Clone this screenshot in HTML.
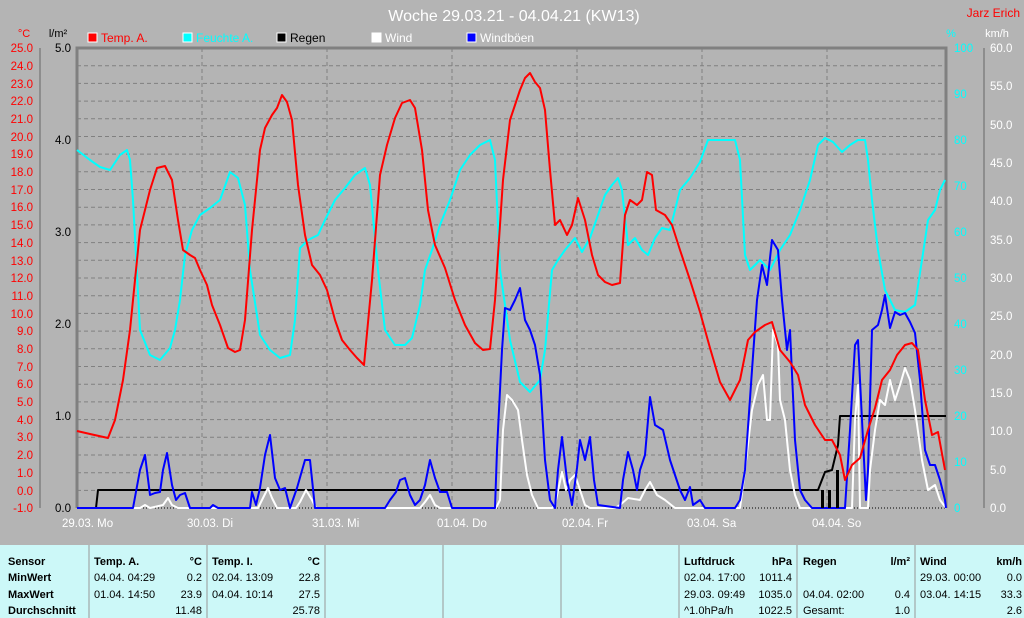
<!DOCTYPE html>
<html><head><meta charset="utf-8"><style>
body{margin:0;background:#b4b4b4;}
svg{display:block;font-family:"Liberation Sans",sans-serif;}
.t{font-size:11.5px;}
</style></head><body>
<svg width="1024" height="618" viewBox="0 0 1024 618" xmlns="http://www.w3.org/2000/svg">
<rect width="1024" height="618" fill="#b4b4b4"/>
<text x="514" y="21" font-size="16" fill="#fff" text-anchor="middle">Woche 29.03.21 - 04.04.21 (KW13)</text>
<text x="1020" y="17" font-size="12" fill="#f00" text-anchor="end">Jarz Erich</text>
<text x="24" y="37" font-size="11" fill="#f00" text-anchor="middle">°C</text>
<text x="58" y="37" font-size="11" fill="#000" text-anchor="middle">l/m²</text>
<text x="951" y="37" font-size="11" fill="#0ff" text-anchor="middle">%</text>
<text x="997" y="37" font-size="11" fill="#fff" text-anchor="middle">km/h</text>
<g font-size="12">
<rect x="88" y="33" width="9" height="9" fill="#f00" stroke="#fff"/><text x="101" y="42" fill="#f00">Temp. A.</text>
<rect x="183" y="33" width="9" height="9" fill="#0ff" stroke="#fff"/><text x="196" y="42" fill="#0ff">Feuchte A.</text>
<rect x="277" y="33" width="9" height="9" fill="#000" stroke="#fff"/><text x="290" y="42" fill="#000">Regen</text>
<rect x="372" y="33" width="9" height="9" fill="#fff" stroke="#fff"/><text x="385" y="42" fill="#fff">Wind</text>
<rect x="467" y="33" width="9" height="9" fill="#00f" stroke="#fff"/><text x="480" y="42" fill="#fff">Windböen</text>
</g>
<g stroke="#808080" stroke-dasharray="4,3" stroke-width="1">
<line x1="77" x2="946" y1="65.7" y2="65.7"/><line x1="77" x2="946" y1="83.4" y2="83.4"/><line x1="77" x2="946" y1="101.1" y2="101.1"/><line x1="77" x2="946" y1="118.8" y2="118.8"/><line x1="77" x2="946" y1="136.5" y2="136.5"/><line x1="77" x2="946" y1="154.1" y2="154.1"/><line x1="77" x2="946" y1="171.8" y2="171.8"/><line x1="77" x2="946" y1="189.5" y2="189.5"/><line x1="77" x2="946" y1="207.2" y2="207.2"/><line x1="77" x2="946" y1="224.9" y2="224.9"/><line x1="77" x2="946" y1="242.6" y2="242.6"/><line x1="77" x2="946" y1="260.3" y2="260.3"/><line x1="77" x2="946" y1="278" y2="278"/><line x1="77" x2="946" y1="295.7" y2="295.7"/><line x1="77" x2="946" y1="313.4" y2="313.4"/><line x1="77" x2="946" y1="331.1" y2="331.1"/><line x1="77" x2="946" y1="348.8" y2="348.8"/><line x1="77" x2="946" y1="366.5" y2="366.5"/><line x1="77" x2="946" y1="384.2" y2="384.2"/><line x1="77" x2="946" y1="401.9" y2="401.9"/><line x1="77" x2="946" y1="419.6" y2="419.6"/><line x1="77" x2="946" y1="437.3" y2="437.3"/><line x1="77" x2="946" y1="455" y2="455"/><line x1="77" x2="946" y1="472.7" y2="472.7"/><line x1="77" x2="946" y1="490.4" y2="490.4"/>
<line x1="202" x2="202" y1="48" y2="508"/><line x1="327" x2="327" y1="48" y2="508"/><line x1="452" x2="452" y1="48" y2="508"/><line x1="577" x2="577" y1="48" y2="508"/><line x1="702" x2="702" y1="48" y2="508"/><line x1="827" x2="827" y1="48" y2="508"/>
</g>
<line x1="77" x2="946" y1="508" y2="508" stroke="#000" stroke-dasharray="1,2"/>
<g stroke="#808080" stroke-width="3" fill="none"><polyline points="77,508 77,48 946,48 946,508"/></g>
<g stroke="#808080" stroke-width="1.5">
<line x1="40" x2="40" y1="48" y2="508"/><line x1="984" x2="984" y1="48" y2="508"/>
</g>
<g class="t" fill="#f00" text-anchor="end">
<text x="33" y="52">25.0</text><text x="33" y="70">24.0</text><text x="33" y="88">23.0</text><text x="33" y="105">22.0</text><text x="33" y="123">21.0</text><text x="33" y="141">20.0</text><text x="33" y="158">19.0</text><text x="33" y="176">18.0</text><text x="33" y="194">17.0</text><text x="33" y="211">16.0</text><text x="33" y="229">15.0</text><text x="33" y="247">14.0</text><text x="33" y="265">13.0</text><text x="33" y="282">12.0</text><text x="33" y="300">11.0</text><text x="33" y="318">10.0</text><text x="33" y="335">9.0</text><text x="33" y="353">8.0</text><text x="33" y="371">7.0</text><text x="33" y="388">6.0</text><text x="33" y="406">5.0</text><text x="33" y="424">4.0</text><text x="33" y="441">3.0</text><text x="33" y="459">2.0</text><text x="33" y="477">1.0</text><text x="33" y="495">0.0</text><text x="33" y="512">-1.0</text>
</g>
<g class="t" fill="#000" text-anchor="end">
<text x="71" y="52">5.0</text><text x="71" y="144">4.0</text><text x="71" y="236">3.0</text><text x="71" y="328">2.0</text><text x="71" y="420">1.0</text><text x="71" y="512">0.0</text>
</g>
<g class="t" fill="#0ff">
<text x="954" y="52">100</text><text x="954" y="98">90</text><text x="954" y="144">80</text><text x="954" y="190">70</text><text x="954" y="236">60</text><text x="954" y="282">50</text><text x="954" y="328">40</text><text x="954" y="374">30</text><text x="954" y="420">20</text><text x="954" y="466">10</text><text x="954" y="512">0</text>
</g>
<g class="t" fill="#fff">
<text x="990" y="52">60.0</text><text x="990" y="90">55.0</text><text x="990" y="129">50.0</text><text x="990" y="167">45.0</text><text x="990" y="205">40.0</text><text x="990" y="244">35.0</text><text x="990" y="282">30.0</text><text x="990" y="320">25.0</text><text x="990" y="359">20.0</text><text x="990" y="397">15.0</text><text x="990" y="435">10.0</text><text x="990" y="474">5.0</text><text x="990" y="512">0.0</text>
</g>
<g class="t" fill="#fff">
<text x="62" y="527">29.03.  Mo</text><text x="187" y="527">30.03.  Di</text><text x="312" y="527">31.03.  Mi</text><text x="437" y="527">01.04.  Do</text><text x="562" y="527">02.04.  Fr</text><text x="687" y="527">03.04.  Sa</text><text x="812" y="527">04.04.  So</text>
</g>
<g fill="none" stroke-width="2" stroke-linejoin="round">
<polyline stroke="#0ff" points="77,150 90,160 100,167 110,170 120,155 127,150 130,160 133,200 140,330 150,355 160,360 170,348 175,330 180,300 185,255 192,230 200,215 210,208 220,200 230,172 238,178 245,205 250,270 260,335 270,350 280,358 290,355 295,320 300,248 308,240 318,235 325,220 335,200 345,188 355,175 365,168 370,185 378,270 385,330 395,345 405,345 412,338 420,305 425,270 432,250 440,225 450,200 460,170 470,155 480,145 490,140 495,160 500,270 510,340 520,382 530,392 540,380 545,350 552,270 558,260 565,250 575,238 582,252 590,238 598,215 605,195 612,185 618,178 622,190 628,245 635,238 642,250 648,255 655,238 662,228 670,230 675,210 680,190 690,178 700,162 708,140 720,140 735,140 740,160 745,255 750,270 760,260 770,270 780,250 790,235 800,210 810,180 818,145 825,138 833,142 842,152 850,145 858,140 865,140 868,160 872,200 878,250 885,290 895,310 905,312 915,305 922,260 928,220 935,210 940,190 945,180"/>
<polyline stroke="#000" points="77,508 96,508 98,490 818,490 825,472 832,470 838,445 840,416 946,416"/>
<polyline stroke="#fff" points="77,508 140,508 145,505 150,508 163,505 168,498 172,505 178,508 258,508 262,500 268,488 272,498 277,508 296,508 300,502 306,490 312,500 316,508 420,508 425,502 430,495 435,505 440,508 496,508 500,500 503,430 507,395 512,400 518,410 522,440 527,475 532,495 538,508 552,508 555,505 562,472 566,490 570,480 575,475 580,490 585,505 590,508 615,508 620,505 628,498 640,500 645,490 650,482 657,495 665,500 675,508 740,508 745,470 752,410 758,385 763,375 767,420 770,420 773,330 778,345 780,400 785,420 790,470 795,495 800,508 852,508 855,420 858,385 860,508 868,508 870,470 875,430 880,400 885,405 890,380 895,400 900,385 905,368 910,380 915,410 922,460 928,490 935,485 940,500 946,508"/>
<polyline stroke="#00f" points="77,508 133,508 140,470 145,455 150,495 155,493 160,492 163,470 167,453 172,485 176,500 180,495 185,493 190,508 210,508 213,505 218,508 250,508 252,492 256,505 260,488 265,455 270,435 275,478 280,490 285,488 290,508 297,488 305,460 310,460 315,508 385,508 390,500 396,492 400,480 405,478 410,495 415,505 420,500 425,485 430,460 435,478 440,492 447,492 452,508 495,508 497,450 502,350 505,308 510,310 515,300 520,288 525,320 530,330 535,345 540,375 545,460 550,500 555,508 558,470 562,437 567,480 572,505 577,468 580,440 585,460 590,437 594,480 598,505 620,508 623,480 628,452 633,470 637,490 640,470 645,455 650,397 655,425 663,430 670,460 680,490 685,500 690,487 693,505 700,500 705,508 735,508 740,500 745,470 752,370 757,300 762,265 767,285 772,240 778,250 782,300 787,350 790,330 795,440 800,490 805,500 812,508 845,508 850,430 855,345 858,340 862,420 866,500 868,470 872,330 878,325 882,310 885,295 890,328 895,312 900,315 905,313 910,322 915,333 920,380 925,450 930,465 935,465 940,480 945,500 946,508"/>
<polyline stroke="#f00" points="77,431 90,434 108,438 115,420 123,380 130,330 140,230 150,190 157,168 165,166 172,180 178,220 183,250 190,255 195,258 200,270 207,285 212,305 220,325 228,348 235,352 240,350 245,320 252,230 260,150 265,128 272,115 277,108 282,95 287,102 292,120 298,185 305,235 312,265 320,275 327,290 335,320 342,340 350,350 357,358 364,365 372,280 380,175 387,145 395,118 402,103 410,100 415,108 422,150 428,210 435,245 445,268 455,300 465,325 475,343 483,350 490,349 495,300 503,180 510,120 515,105 520,90 525,78 530,73 535,82 540,88 545,110 550,170 555,225 560,220 567,235 572,225 578,198 585,220 592,255 598,275 605,282 612,285 620,283 625,215 630,200 637,205 642,200 647,172 652,175 656,210 665,215 672,225 680,250 690,280 700,312 710,348 720,382 730,400 740,380 748,340 755,332 765,325 772,322 780,350 790,362 798,375 805,405 815,425 825,440 832,440 840,455 845,480 852,465 860,458 868,430 875,408 882,380 890,370 897,355 905,345 912,343 918,350 925,400 932,435 938,432 945,470"/>
</g>
<g fill="#000"><rect x="821" y="490" width="3" height="18"/><rect x="828" y="490" width="3" height="18"/><rect x="836" y="470" width="3" height="38"/></g>
<rect x="0" y="545" width="1024" height="73" fill="#ccf8f8"/>
<g stroke="#999" stroke-width="1"><line x1="89" x2="89" y1="545" y2="618"/><line x1="207" x2="207" y1="545" y2="618"/><line x1="325" x2="325" y1="545" y2="618"/><line x1="443" x2="443" y1="545" y2="618"/><line x1="561" x2="561" y1="545" y2="618"/><line x1="679" x2="679" y1="545" y2="618"/><line x1="797" x2="797" y1="545" y2="618"/><line x1="915" x2="915" y1="545" y2="618"/></g>
<g font-size="11" fill="#000">
<g font-weight="bold"><text x="8" y="565">Sensor</text><text x="8" y="581">MinWert</text><text x="8" y="598">MaxWert</text><text x="8" y="614">Durchschnitt</text>
<text x="94" y="565">Temp. A.</text><text x="202" y="565" text-anchor="end">°C</text>
<text x="212" y="565">Temp. I.</text><text x="320" y="565" text-anchor="end">°C</text>
<text x="684" y="565">Luftdruck</text><text x="792" y="565" text-anchor="end">hPa</text>
<text x="803" y="565">Regen</text><text x="910" y="565" text-anchor="end">l/m²</text>
<text x="920" y="565">Wind</text><text x="1022" y="565" text-anchor="end">km/h</text></g>
<text x="94" y="581">04.04.  04:29</text><text x="202" y="581" text-anchor="end">0.2</text>
<text x="94" y="598">01.04.  14:50</text><text x="202" y="598" text-anchor="end">23.9</text>
<text x="202" y="614" text-anchor="end">11.48</text>
<text x="212" y="581">02.04.  13:09</text><text x="320" y="581" text-anchor="end">22.8</text>
<text x="212" y="598">04.04.  10:14</text><text x="320" y="598" text-anchor="end">27.5</text>
<text x="320" y="614" text-anchor="end">25.78</text>
<text x="684" y="581">02.04.  17:00</text><text x="792" y="581" text-anchor="end">1011.4</text>
<text x="684" y="598">29.03.  09:49</text><text x="792" y="598" text-anchor="end">1035.0</text>
<text x="684" y="614">^1.0hPa/h</text><text x="792" y="614" text-anchor="end">1022.5</text>
<text x="803" y="598">04.04.  02:00</text><text x="910" y="598" text-anchor="end">0.4</text>
<text x="803" y="614">Gesamt:</text><text x="910" y="614" text-anchor="end">1.0</text>
<text x="920" y="581">29.03.  00:00</text><text x="1022" y="581" text-anchor="end">0.0</text>
<text x="920" y="598">03.04.  14:15</text><text x="1022" y="598" text-anchor="end">33.3</text>
<text x="1022" y="614" text-anchor="end">2.6</text>
</g>
</svg>
</body></html>
